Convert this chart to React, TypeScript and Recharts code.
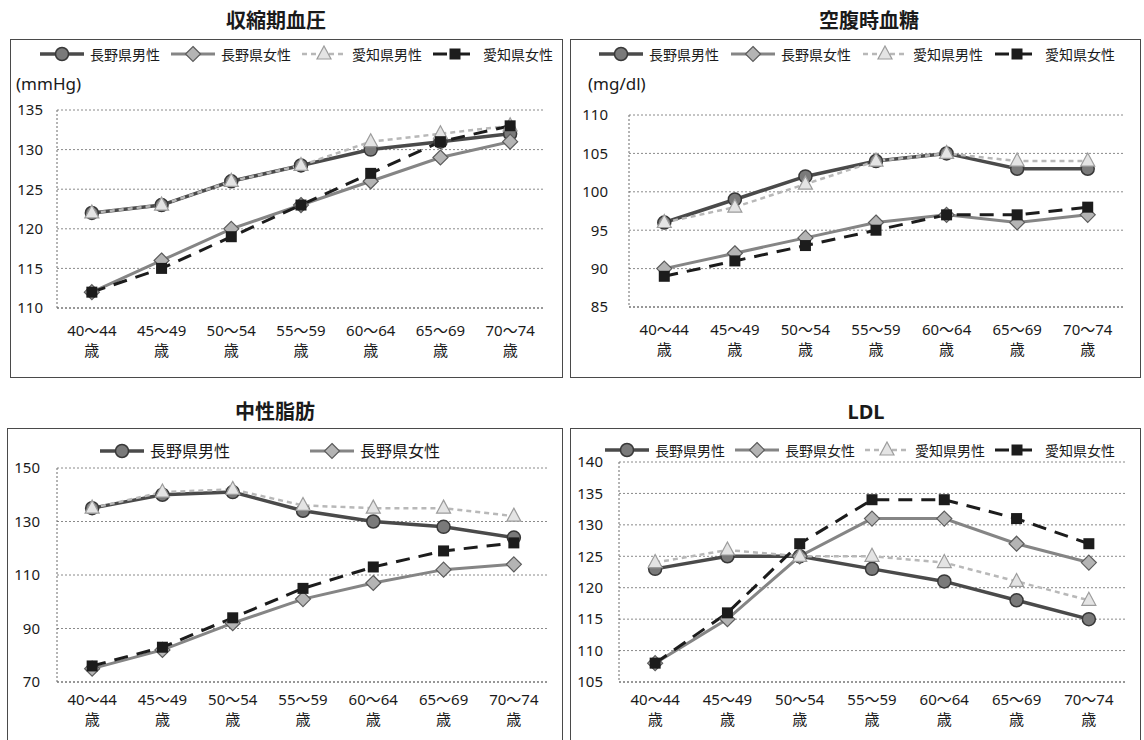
import { LineChart, Line, XAxis, YAxis, CartesianGrid } from "recharts"

const ageGroups = ["40〜44", "45〜49", "50〜54", "55〜59", "60〜64", "65〜69", "70〜74"]

// 収縮期血圧 (mmHg)
const sbpNaganoMale = [122, 123, 126, 128, 130, 131, 132]
const sbpNaganoFemale = [112, 116, 120, 123, 126, 129, 131]
const sbpAichiMale = [122, 123, 126, 128, 131, 132, 133]
const sbpAichiFemale = [112, 115, 119, 123, 127, 131, 133]

// 空腹時血糖 (mg/dl)
const fbgNaganoMale = [96, 99, 102, 104, 105, 103, 103]
const fbgNaganoFemale = [90, 92, 94, 96, 97, 96, 97]
const fbgAichiMale = [96, 98, 101, 104, 105, 104, 104]
const fbgAichiFemale = [89, 91, 93, 95, 97, 97, 98]

// 中性脂肪
const tgNaganoMale = [135, 140, 141, 134, 130, 128, 124]
const tgNaganoFemale = [75, 82, 92, 101, 107, 112, 114]
const tgAichiMale = [135, 141, 142, 136, 135, 135, 132]
const tgAichiFemale = [76, 83, 94, 105, 113, 119, 122]

// LDL
const ldlNaganoMale = [123, 125, 125, 123, 121, 118, 115]
const ldlNaganoFemale = [108, 115, 125, 131, 131, 127, 124]
const ldlAichiMale = [124, 126, 125, 125, 124, 121, 118]
const ldlAichiFemale = [108, 116, 127, 134, 134, 131, 127]

const sbpTicks = [110, 115, 120, 125, 130, 135]
const fbgTicks = [85, 90, 95, 100, 105, 110]
const tgTicks = [70, 90, 110, 130, 150]
const ldlTicks = [105, 110, 115, 120, 125, 130, 135, 140]

const FONT = '"Noto Sans", "Noto Sans CJK JP", sans-serif'
const TEXT = "#1a1a1a"
const FRAME = { stroke: "#6a6a6a", strokeDasharray: "2 2" }

type MarkerKind = "circle" | "diamond" | "triangle" | "square"

interface SeriesStyle {
  key: string
  name: string
  color: string
  width: number
  dash?: string
  marker: MarkerKind
}

const SERIES: SeriesStyle[] = [
  { key: "naganoMale", name: "長野県男性", color: "#4a4a4a", width: 3.5, marker: "circle" },
  { key: "naganoFemale", name: "長野県女性", color: "#858585", width: 3, marker: "diamond" },
  { key: "aichiMale", name: "愛知県男性", color: "#b8b8b8", width: 2.5, dash: "5 4", marker: "triangle" },
  { key: "aichiFemale", name: "愛知県女性", color: "#1c1c1c", width: 3, dash: "14 9", marker: "square" },
]

function buildRows(nm: number[], nf: number[], am: number[], af: number[]) {
  return ageGroups.map((age, i) => ({
    age,
    naganoMale: nm[i],
    naganoFemale: nf[i],
    aichiMale: am[i],
    aichiFemale: af[i],
  }))
}

function Marker({ kind, cx, cy }: { kind: MarkerKind; cx: number; cy: number }) {
  switch (kind) {
    case "circle":
      return <circle cx={cx} cy={cy} r={6.5} fill="#7a7a7a" stroke="#383838" strokeWidth={1.5} />
    case "diamond":
      return (
        <polygon
          points={`${cx},${cy - 7.5} ${cx + 7.5},${cy} ${cx},${cy + 7.5} ${cx - 7.5},${cy}`}
          fill="#b4b4b4"
          stroke="#5c5c5c"
          strokeWidth={1.2}
        />
      )
    case "triangle":
      return (
        <polygon
          points={`${cx},${cy - 8} ${cx + 7},${cy + 5} ${cx - 7},${cy + 5}`}
          fill="#e4e4e4"
          stroke="#9c9c9c"
          strokeWidth={1.2}
        />
      )
    default:
      return <rect x={cx - 5.5} y={cy - 5.5} width={11} height={11} fill="#1c1c1c" />
  }
}

function AgeTick(props: any) {
  const { x, y, payload } = props
  return (
    <text x={x} y={y} textAnchor="middle" fontSize={15} fill={TEXT} fontFamily={FONT}>
      <tspan x={x} dy={14}>{payload.value}</tspan>
      <tspan x={x} dy={20}>歳</tspan>
    </text>
  )
}

function LegendRow({ keys, x, y, fontSize, gap }: { keys: string[]; x: number; y: number; fontSize: number; gap: number }) {
  const lh = Math.round(fontSize * 1.5)
  return (
    <div
      style={{
        position: "absolute",
        left: x,
        top: y - lh / 2,
        display: "flex",
        alignItems: "center",
        fontSize,
        lineHeight: `${lh}px`,
        color: TEXT,
        whiteSpace: "nowrap",
      }}
    >
      {keys.map(k => {
        const s = SERIES.find(v => v.key === k)!
        return (
          <div key={k} style={{ display: "flex", alignItems: "center", marginRight: gap }}>
            <svg width={44} height={18}>
              <line x1={0} y1={9} x2={44} y2={9} stroke={s.color} strokeWidth={s.width} strokeDasharray={s.dash} />
              <Marker kind={s.marker} cx={22} cy={9} />
            </svg>
            <span style={{ marginLeft: 6 }}>{s.name}</span>
          </div>
        )
      })}
    </div>
  )
}

interface Rect { x: number; y: number; w: number; h: number }
interface Plot { l: number; t: number; r: number; b: number }

interface PanelProps {
  title: string
  titleAt: [number, number]
  unit?: string
  unitAt?: [number, number]
  data: ReturnType<typeof buildRows>
  ticks: number[]
  box: Rect
  plot: Plot
  yGap: number
  xGap: number
  legend: { keys: string[]; x: number; y: number; fontSize: number; gap: number }
}

const XH = 50

function Panel({ title, titleAt, unit, unitAt, data, ticks, box, plot, yGap, xGap, legend }: PanelProps) {
  const lo = ticks[0]
  const hi = ticks[ticks.length - 1]
  // points sit in the middle of each category slot, Excel style
  const halfBand = (plot.r - plot.l) / data.length / 2
  return (
    <>
      <div
        style={{
          position: "absolute",
          left: titleAt[0],
          top: titleAt[1],
          transform: "translate(-50%, -50%)",
          fontSize: 20,
          fontWeight: 700,
          color: TEXT,
          whiteSpace: "nowrap",
        }}
      >
        {title}
      </div>
      <div
        style={{
          position: "absolute",
          left: box.x,
          top: box.y,
          width: box.w,
          height: box.h,
          border: "1px solid #4a4a4a",
          boxSizing: "border-box",
        }}
      />
      <div style={{ position: "absolute", left: box.x, top: box.y }}>
        <LineChart
          width={box.w}
          height={box.h}
          data={data}
          margin={{
            top: plot.t - box.y,
            right: box.x + box.w - plot.r,
            bottom: box.y + box.h - plot.b - XH,
            left: 0,
          }}
        >
          <CartesianGrid vertical={false} stroke="#8a8a8a" strokeDasharray="2 2" />
          <XAxis
            dataKey="age"
            interval={0}
            height={XH}
            tickSize={0}
            tickMargin={xGap}
            axisLine={FRAME}
            padding={{ left: halfBand, right: halfBand }}
            tick={<AgeTick />}
          />
          {/* top and right edges of the plot frame */}
          <XAxis
            xAxisId="top"
            orientation="top"
            dataKey="age"
            height={0}
            tick={false}
            tickLine={false}
            axisLine={FRAME}
            padding={{ left: halfBand, right: halfBand }}
          />
          <YAxis
            width={plot.l - box.x}
            domain={[lo, hi]}
            ticks={ticks}
            interval={0}
            tickSize={0}
            tickMargin={yGap}
            axisLine={FRAME}
            tick={{ fontSize: 15, fill: TEXT, fontFamily: FONT }}
          />
          <YAxis
            yAxisId="right"
            orientation="right"
            width={0}
            domain={[lo, hi]}
            tick={false}
            tickLine={false}
            axisLine={FRAME}
          />
          {SERIES.map(s => (
            <Line
              key={s.key}
              dataKey={s.key}
              type="linear"
              stroke={s.color}
              strokeWidth={s.width}
              strokeDasharray={s.dash}
              isAnimationActive={false}
              dot={(p: any) => <Marker key={`${s.key}-${p.index}`} kind={s.marker} cx={p.cx} cy={p.cy} />}
              activeDot={false}
            />
          ))}
        </LineChart>
      </div>
      <LegendRow {...legend} />
      {unit && unitAt && (
        <div
          style={{
            position: "absolute",
            left: unitAt[0],
            top: unitAt[1],
            transform: "translateY(-50%)",
            fontSize: 17,
            color: TEXT,
          }}
        >
          {unit}
        </div>
      )}
    </>
  )
}

const allKeys = SERIES.map(s => s.key)

export default function App() {
  return (
    <div
      style={{
        position: "absolute",
        left: 0,
        top: 0,
        width: 1144,
        height: 740,
        overflow: "hidden",
        background: "#fff",
        fontFamily: FONT,
      }}
    >
      <Panel
        title="収縮期血圧"
        titleAt={[276, 19]}
        unit="(mmHg)"
        unitAt={[16, 83]}
        data={buildRows(sbpNaganoMale, sbpNaganoFemale, sbpAichiMale, sbpAichiFemale)}
        ticks={sbpTicks}
        box={{ x: 10, y: 39, w: 553, h: 339 }}
        plot={{ l: 57, t: 110, r: 545, b: 308 }}
        yGap={14}
        xGap={14}
        legend={{ keys: allKeys, x: 40, y: 54, fontSize: 14, gap: 11 }}
      />
      <Panel
        title="空腹時血糖"
        titleAt={[869, 19]}
        unit="(mg/dl)"
        unitAt={[588, 83]}
        data={buildRows(fbgNaganoMale, fbgNaganoFemale, fbgAichiMale, fbgAichiFemale)}
        ticks={fbgTicks}
        box={{ x: 570, y: 39, w: 571, h: 339 }}
        plot={{ l: 629, t: 115, r: 1123, b: 307 }}
        yGap={21}
        xGap={14}
        legend={{ keys: allKeys, x: 599, y: 54, fontSize: 14, gap: 12 }}
      />
      <Panel
        title="中性脂肪"
        titleAt={[275, 410]}
        data={buildRows(tgNaganoMale, tgNaganoFemale, tgAichiMale, tgAichiFemale)}
        ticks={tgTicks}
        box={{ x: 7, y: 428, w: 556, h: 330 }}
        plot={{ l: 57, t: 468, r: 549, b: 682 }}
        yGap={17}
        xGap={9}
        legend={{ keys: ["naganoMale", "naganoFemale"], x: 100, y: 451, fontSize: 16, gap: 80 }}
      />
      <Panel
        title="LDL"
        titleAt={[866, 411]}
        data={buildRows(ldlNaganoMale, ldlNaganoFemale, ldlAichiMale, ldlAichiFemale)}
        ticks={ldlTicks}
        box={{ x: 570, y: 428, w: 571, h: 330 }}
        plot={{ l: 619, t: 462, r: 1125, b: 682 }}
        yGap={16}
        xGap={9}
        legend={{ keys: allKeys, x: 605, y: 450, fontSize: 14, gap: 10 }}
      />
    </div>
  )
}
